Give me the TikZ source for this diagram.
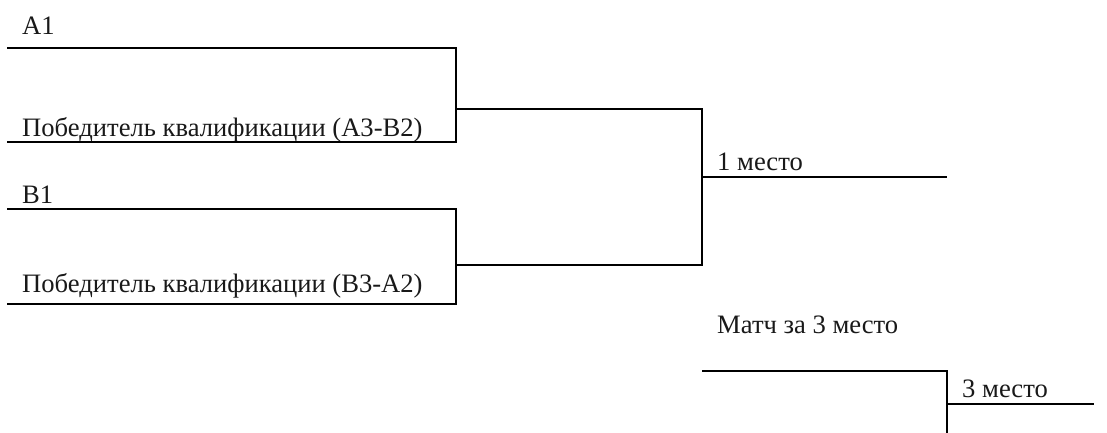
\documentclass[tikz,border=0pt]{standalone}
\usepackage{fontspec}
\setmainfont{Liberation Serif}
\tikzset{
  lbl/.style={anchor=base west,inner sep=0pt,font=\fontsize{26.6}{30}\selectfont,text=black!90},
  bracket/.style={draw=black,line width=1.9pt,line cap=butt,line join=miter}
}
\begin{document}
\begin{tikzpicture}[x=1pt,y=-1pt]
\useasboundingbox (0,0) rectangle (1107,433);
\fill[white] (0,0) rectangle (1107,433);
% junction points
\coordinate (a1s) at (7,48);
\coordinate (a1e) at (456,48);
\coordinate (a2s) at (7,142);
\coordinate (a2e) at (456,142);
\coordinate (am) at (456,109);
\coordinate (b1s) at (7,209);
\coordinate (b1e) at (456,209);
\coordinate (b2s) at (7,304);
\coordinate (b2e) at (456,304);
\coordinate (bm) at (456,265);
\coordinate (ft) at (702,109);
\coordinate (fb) at (702,265);
\coordinate (fm) at (702,177);
\coordinate (fe) at (947,177);
\coordinate (ts) at (702,371);
\coordinate (tc) at (947,371);
\coordinate (tb) at (947,433);
\coordinate (tm) at (947,404);
\coordinate (te) at (1094,404);
% labels
\node[lbl] (la1) at (22,34.5) {A1};
\node[lbl] (la2) at (22,136) {Победитель квалификации (А3-В2)};
\node[lbl] (lb1) at (22,203) {B1};
\node[lbl] (lb2) at (22,292.5) {Победитель квалификации (В3-А2)};
\node[lbl] (lf) at (717,170) {1 место};
\node[lbl] (lm) at (717,333) {Матч за 3 место};
\node[lbl] (lt) at (962,397) {3 место};
% brackets
\draw[bracket] (a1s) -- (a1e) -- (a2e) -- (a2s);
\draw[bracket] (b1s) -- (b1e) -- (b2e) -- (b2s);
\draw[bracket] (am) -- (ft) -- (fb) -- (bm);
\draw[bracket] (fm) -- (fe);
\draw[bracket] (ts) -- (tc) -- (tb);
\draw[bracket] (tm) -- (te);
\end{tikzpicture}
\end{document}
